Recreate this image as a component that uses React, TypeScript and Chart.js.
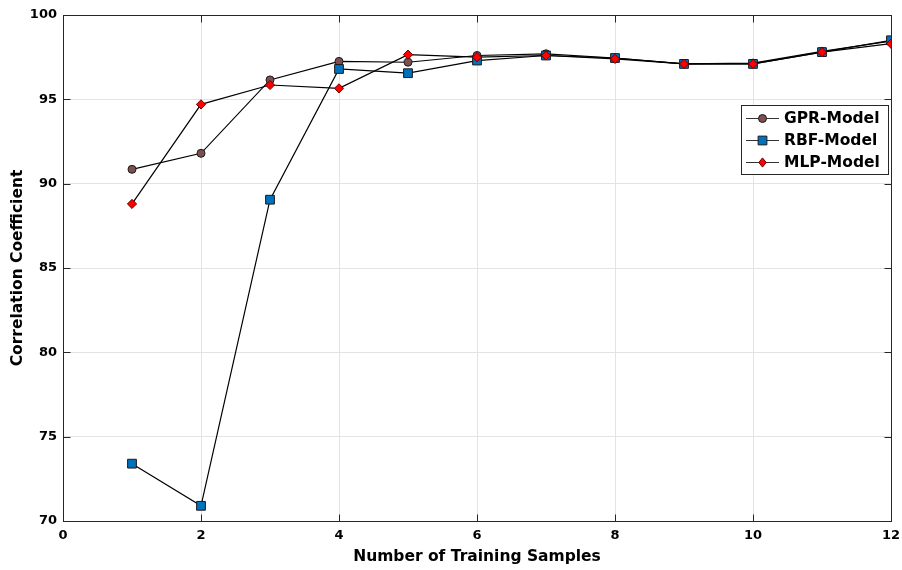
import React, { useEffect, useRef } from "react";
import { Chart, registerables } from "chart.js";

Chart.register(...registerables);

const samples = [1, 2, 3, 4, 5, 6, 7, 8, 9, 10, 11, 12];
const gprValues = [90.85, 91.8, 96.15, 97.25, 97.2, 97.6, 97.7, 97.45, 97.1, 97.15, 97.85, 98.45];
const rbfValues = [73.4, 70.9, 89.05, 96.8, 96.55, 97.3, 97.6, 97.45, 97.1, 97.1, 97.8, 98.5];
const mlpValues = [88.8, 94.7, 95.85, 95.65, 97.65, 97.5, 97.6, 97.4, 97.1, 97.1, 97.8, 98.3];
const seriesLabels = ["GPR-Model", "RBF-Model", "MLP-Model"];
const xTickValues = [0, 2, 4, 6, 8, 10, 12];
const yTickValues = [70, 75, 80, 85, 90, 95, 100];

const FONT = "'DejaVu Sans', 'Liberation Sans', Arial, sans-serif";
const AXIS = "#262626";

function drawMarker(ctx: CanvasRenderingContext2D, style: string, x: number, y: number, r: number) {
  ctx.beginPath();
  if (style === "circle") {
    ctx.arc(x, y, r, 0, Math.PI * 2);
  } else if (style === "rect") {
    const s = Math.SQRT1_2 * r;
    ctx.rect(x - s, y - s, 2 * s, 2 * s);
  } else {
    ctx.moveTo(x, y - r);
    ctx.lineTo(x + r * 0.8, y);
    ctx.lineTo(x, y + r);
    ctx.lineTo(x - r * 0.8, y);
    ctx.closePath();
  }
  ctx.fill();
  ctx.stroke();
}

const boxPlugin = {
  id: "matlabBox",
  afterDraw(chart: any) {
    const { ctx, chartArea } = chart;
    const { left, right, top, bottom } = chartArea;
    const xs = chart.scales.x;
    const ys = chart.scales.y;
    ctx.save();
    ctx.strokeStyle = AXIS;
    ctx.lineWidth = 1;
    const L = Math.round(left) + 0.5;
    const R = Math.round(right) + 0.5;
    const T = Math.round(top) + 0.5;
    const B = Math.round(bottom) + 0.5;
    ctx.strokeRect(L, T, R - L, B - T);
    const tl = 7;
    ctx.beginPath();
    xTickValues.forEach((v) => {
      const px = Math.round(xs.getPixelForValue(v)) + 0.5;
      ctx.moveTo(px, B);
      ctx.lineTo(px, B - tl);
      ctx.moveTo(px, T);
      ctx.lineTo(px, T + tl);
    });
    yTickValues.forEach((v) => {
      const py = Math.round(ys.getPixelForValue(v)) + 0.5;
      ctx.moveTo(L, py);
      ctx.lineTo(L + tl, py);
      ctx.moveTo(R, py);
      ctx.lineTo(R - tl, py);
    });
    ctx.stroke();

    // legend
    const bx = 741.5, by = 105.5, bw = 147, bh = 69;
    ctx.fillStyle = "#ffffff";
    ctx.fillRect(bx, by, bw, bh);
    ctx.strokeStyle = AXIS;
    ctx.strokeRect(bx, by, bw, bh);
    const rows = [118, 140, 162];
    chart.data.datasets.forEach((ds: any, i: number) => {
      const cy = rows[i];
      ctx.strokeStyle = "#333";
      ctx.lineWidth = 1;
      ctx.beginPath();
      ctx.moveTo(746, cy + 0.5);
      ctx.lineTo(779, cy + 0.5);
      ctx.stroke();
      ctx.fillStyle = ds.pointBackgroundColor;
      ctx.strokeStyle = ds.pointBorderColor;
      ctx.lineWidth = 1;
      drawMarker(ctx, ds.pointStyle, 762.5, cy + 0.5, ds.pointRadius);
      ctx.fillStyle = "#000";
      ctx.font = `bold 15.5px ${FONT}`;
      ctx.textBaseline = "middle";
      ctx.textAlign = "left";
      ctx.fillText(ds.label, 784, cy + 1);
    });
    ctx.restore();
  },
};

function toPoints(vals: number[]) {
  return samples.map((s, i) => ({ x: s, y: vals[i] }));
}

export default function App() {
  const ref = useRef<HTMLCanvasElement | null>(null);
  useEffect(() => {
    if (!ref.current) return;
    const chart = new Chart(ref.current, {
      type: "line",
      data: {
        datasets: [
          {
            label: seriesLabels[0],
            data: toPoints(gprValues),
            borderColor: "#000",
            borderWidth: 1.2,
            pointStyle: "circle",
            pointRadius: 4,
            pointBackgroundColor: "#7e4f4f",
            pointBorderColor: "#1a1a1a",
            pointBorderWidth: 1,
            order: 3,
          } as any,
          {
            label: seriesLabels[1],
            data: toPoints(rbfValues),
            borderColor: "#000",
            borderWidth: 1.2,
            pointStyle: "rect",
            pointRadius: 6.2,
            pointBackgroundColor: "#0072bd",
            pointBorderColor: "#1a1a1a",
            pointBorderWidth: 1,
            order: 2,
          },
          {
            label: seriesLabels[2],
            data: toPoints(mlpValues),
            borderColor: "#000",
            borderWidth: 1.2,
            pointStyle: "rectRot",
            pointRadius: 4.6,
            pointBackgroundColor: "#ff0000",
            pointBorderColor: "#6b0000",
            pointBorderWidth: 1,
            order: 1,
          },
        ],
      },
      options: {
        animation: false,
        responsive: false,
        devicePixelRatio: 1,
        layout: { padding: { top: 15, right: 11, left: 0, bottom: 0 } },
        plugins: { legend: { display: false }, tooltip: { enabled: false } },
        elements: { line: { tension: 0 } },
        scales: {
          x: {
            type: "linear",
            min: 0,
            max: 12,
            afterFit: (s: any) => {
              s.height = 49;
              s.paddingLeft = 0;
              s.paddingRight = 0;
            },
            afterBuildTicks: (s: any) => {
              s.ticks = xTickValues.map((v) => ({ value: v }));
            },
            grid: { color: "#e3e3e3", drawTicks: false, lineWidth: 1 },
            border: { display: false },
            ticks: {
              color: "#000",
              padding: 7,
              font: { family: FONT, size: 13, weight: "bold" },
            },
            title: {
              display: true,
              text: "Number of Training Samples",
              color: "#000",
              padding: { top: 0, bottom: 4 },
              font: { family: FONT, size: 15.5, weight: "bold" },
            },
          },
          y: {
            type: "linear",
            min: 70,
            max: 100,
            afterFit: (s: any) => {
              s.width = 63;
              s.paddingTop = 0;
              s.paddingBottom = 0;
            },
            afterBuildTicks: (s: any) => {
              s.ticks = yTickValues.map((v) => ({ value: v }));
            },
            grid: { color: "#e3e3e3", drawTicks: false, lineWidth: 1 },
            border: { display: false },
            ticks: {
              color: "#000",
              padding: 6,
              font: { family: FONT, size: 13, weight: "bold" },
            },
            title: {
              display: true,
              text: "Correlation Coefficient",
              color: "#000",
              padding: { top: 9, bottom: 0 },
              font: { family: FONT, size: 15.5, weight: "bold" },
            },
          },
        },
      },
      plugins: [boxPlugin],
    });
    return () => chart.destroy();
  }, []);
  return (
    <div style={{ position: "fixed", left: 0, top: 0, width: 902, height: 570, background: "#fff" }}>
      <canvas ref={ref} width={902} height={570} style={{ display: "block", width: 902, height: 570 }} />
    </div>
  );
}
